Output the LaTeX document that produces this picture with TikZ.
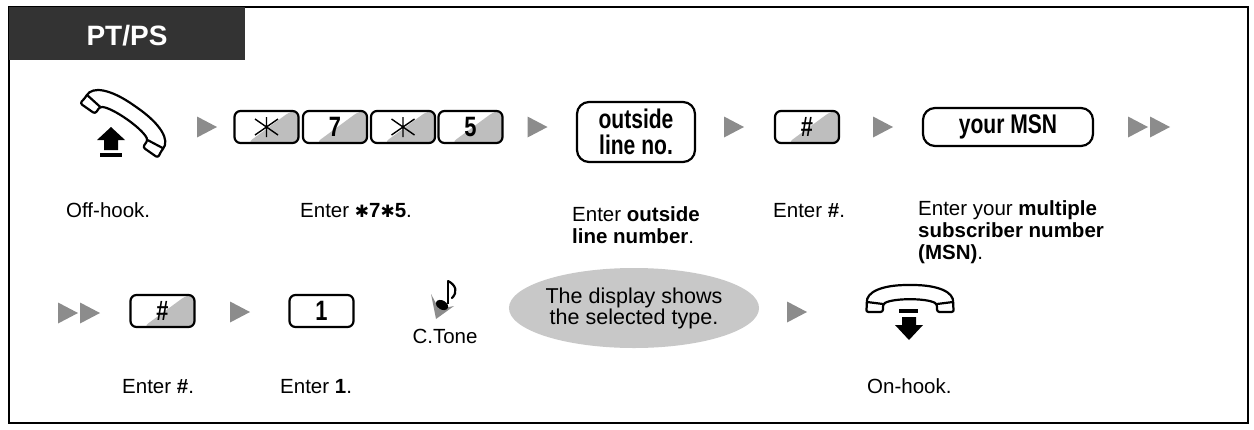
\documentclass[tikz,border=0pt]{standalone}
\usepackage{fontspec}
\usepackage{graphicx}
\setmainfont{Liberation Sans}
\newfontfamily\djv{DejaVu Sans}
\usetikzlibrary{shapes.geometric,calc}
\definecolor{hdr}{HTML}{333333}
\definecolor{tri}{HTML}{8C8C8C}
\definecolor{keygray}{HTML}{BEBEBE}
\definecolor{ovalgray}{HTML}{C8C8C8}
\newcommand{\cond}[1]{\scalebox{0.78}[1]{#1}}
\newcommand{\hast}{{\djv\fontsize{17}{20}\selectfont ✱}}
\begin{document}
\begin{tikzpicture}[x=1pt,y=-1pt,
  lbl/.style={font=\fontsize{20.5}{23}\selectfont, anchor=base west, inner sep=0},
  keybox/.style={draw, line width=2.2pt, rounded corners=6pt, minimum width=64pt, minimum height=32pt, inner sep=0, fill=white, font=\fontsize{28}{28}\selectfont\bfseries},
  keyshade/.style={path picture={\fill[keygray]
     ($(path picture bounding box.south west)!0.2!(path picture bounding box.south east)$) --
     ($(path picture bounding box.north west)!0.88!(path picture bounding box.north east)$) --
     (path picture bounding box.north east) -- (path picture bounding box.south east) -- cycle;}},
  wordbox/.style={draw, line width=2.2pt, rounded corners=12pt, inner sep=0, fill=white, font=\fontsize{27}{26}\selectfont\bfseries, align=center},
  playtri/.pic={\fill[tri] (-10,-10.5) -- (10,0) -- (-10,10.5) -- cycle;},
  astk/.pic={\draw[line width=1.4pt] (0,-10)--(0,10) (-11.5,-8)--(11.5,8) (-11.5,8)--(11.5,-8);},
  handset/.pic={
    \draw[line width=2.2pt, fill=white, rounded corners=2.5pt, line join=round]
      (-43,6) .. controls (-44,-7) and (-28,-14) .. (0,-14) .. controls (28,-14) and (44,-7) .. (43,6)
      -- (44,13) -- (27,13) -- (27,5) .. controls (16,-1) and (-16,-1) .. (-27,5) -- (-27,13) -- (-44,13) -- cycle;
    \draw[line width=2.2pt] (-27,5) -- (-43,3) (27,5) -- (43,3);}
]
\useasboundingbox (0,0) rectangle (1254,429);
% frame and header
\draw[line width=2.5pt] (9,7) rectangle (1248,423);
\fill[hdr] (9,7) rectangle (245,60);
\node[text=white, font=\fontsize{28}{28}\selectfont\bfseries, inner sep=0] (hdrtxt) at (127,36) {PT/PS};

% ---------- row 1 ----------
\pic[rotate=-35, scale=1.08] at (127,119) {handset};
\fill (111,127) -- (125,140) -- (118,140) -- (118,150) -- (104,150) -- (104,140) -- (97,140) -- cycle;
\fill (100,153) rectangle (122,157);
\pic at (207,127) {playtri};
\node[keybox, keyshade] (k1) at (266.5,127) {};
\pic at (k1) {astk};
\node[keybox, keyshade] (k2) at (335,127) {\cond{7}};
\node[keybox, keyshade] (k3) at (403,127) {};
\pic at (k3) {astk};
\node[keybox, keyshade] (k4) at (470.5,127) {\cond{5}};
\pic at (537.5,127) {playtri};
\node[wordbox, minimum width=118pt, minimum height=60pt] (oln) at (636,132) {\cond{outside}\\\cond{line no.}};
\pic at (734,127) {playtri};
\node[keybox, keyshade] (k5) at (807,127) {\cond{\#}};
\pic at (883,127) {playtri};
\node[wordbox, minimum width=170pt, minimum height=38pt] (msn) at (1008,127) {\cond{your MSN}};
\pic at (1138,127) {playtri};
\pic at (1160,127) {playtri};

\node[lbl] (t1) at (66,217) {Off-hook.};
\node[lbl] (t2) at (300,217) {Enter \textbf{\hast7\hast5}.};
\node[lbl] (t3a) at (572,221) {Enter \textbf{outside}};
\node[lbl] (t3b) at (572,243) {\textbf{line number}.};
\node[lbl] (t4) at (773,217) {Enter \textbf{\#}.};
\node[lbl] (t5a) at (918,215) {Enter your \textbf{multiple}};
\node[lbl] (t5b) at (918,237) {\textbf{subscriber number}};
\node[lbl] (t5c) at (918,259) {\textbf{(MSN)}.};

% ---------- row 2 ----------
\pic at (68,313) {playtri};
\pic at (90,313) {playtri};
\node[keybox, keyshade] (k6) at (162.5,311) {\cond{\#}};
\pic at (240,312) {playtri};
\node[keybox] (k7) at (321.5,311) {\cond{1}};
% tone icon
\fill[tri] (431,294) -- (436,319) -- (454,306) -- (439,309) -- cycle;
\fill[rotate around={-30:(442,305)}] (442,305) ellipse (6.5 and 4.5);
\draw[line width=1.8pt] (448,304) -- (448,281);
\draw[line width=2.2pt, line cap=round] (448,281) .. controls (456,285) and (458,292) .. (452,298);
\node[font=\fontsize{20.5}{23}\selectfont, anchor=base, inner sep=0] (ctone) at (445,343) {C.Tone};
\node[ellipse, fill=ovalgray, minimum width=238pt, minimum height=80pt, inner sep=0, align=center, font=\fontsize{21.5}{19}\selectfont] (disp) at (634,308) {The display shows\\the selected type.};
\pic at (797,312) {playtri};
\pic at (910,299) {handset};
\fill (899,309) rectangle (918,313);
\fill (902,317) -- (916,317) -- (916,325) -- (923,325) -- (909,340) -- (895,325) -- (902,325) -- cycle;

\node[lbl] (t6) at (122,393) {Enter \textbf{\#}.};
\node[lbl] (t7) at (280,393) {Enter \textbf{1}.};
\node[lbl] (t8) at (867,393) {On-hook.};
\end{tikzpicture}
\end{document}
